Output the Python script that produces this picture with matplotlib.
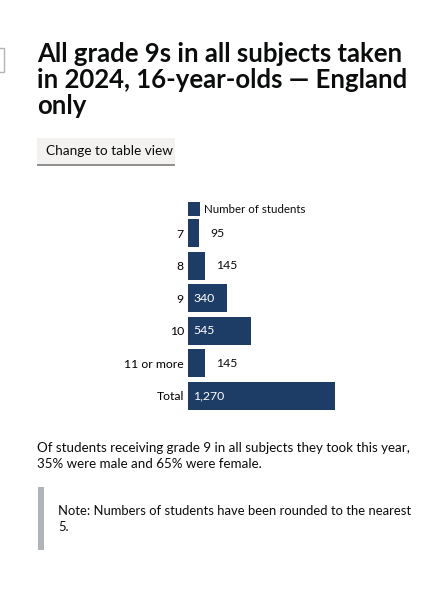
import matplotlib
matplotlib.use("Agg")
import matplotlib.pyplot as plt
from matplotlib.patches import Rectangle

categories = ["7", "8", "9", "10", "11 or more", "Total"]
values = [95, 145, 340, 545, 145, 1270]
value_labels = ["95", "145", "340", "545", "145", "1,270"]

W, H = 434, 600
fig = plt.figure(figsize=(W/100, H/100), dpi=100)
plt.rcParams['font.family'] = ['Lato', 'DejaVu Sans']
navy = "#1d3c66"

def fx(x): return x / W
def fy(y): return 1 - y / H

# title
fig.text(fx(37), fy(80), "All grade 9s in all subjects taken\nin 2024, 16-year-olds \u2014 England\nonly",
         fontsize=18.5, fontweight='bold', va='center', ha='left', linespacing=1.12, color="#0b0c0c")
# left sliver box
fig.patches.append(Rectangle((fx(-10), fy(72)), fx(14), 24/H, transform=fig.transFigure,
                             fill=False, edgecolor="#b1b4b6", lw=1))
# button
fig.patches.append(Rectangle((fx(37), fy(164)), fx(138), 26/H, transform=fig.transFigure,
                             facecolor="#f3f2f1", edgecolor="none"))
fig.patches.append(Rectangle((fx(37), fy(166)), fx(138), 2/H, transform=fig.transFigure,
                             facecolor="#929191", edgecolor="none"))
fig.text(fx(46), fy(151), "Change to table view", fontsize=9.8, va='center', color="#0b0c0c")

# chart
ax = fig.add_axes([fx(188), fy(412), 147/W, 195/H])
y = list(range(len(categories)))
ax.barh(y, values, height=0.86, color=navy)
ax.set_xlim(0, 1270)
ax.set_ylim(len(categories) - 0.5, -0.5)
ax.set_yticks(y)
ax.set_yticklabels(categories, fontsize=8.8)
ax.tick_params(length=0, pad=3)
ax.set_xticks([])
for s in ax.spines.values():
    s.set_visible(False)
for i, (v, lab) in enumerate(zip(values, value_labels)):
    if v >= 300:
        ax.text(45, i, lab, color="white", va='center', ha='left', fontsize=8.8)
    else:
        ax.text(v + 100, i, lab, color="#0b0c0c", va='center', ha='left', fontsize=8.8)

# legend
fig.patches.append(Rectangle((fx(188), fy(216)), fx(12), 14/H, transform=fig.transFigure,
                             facecolor=navy, edgecolor="none"))
fig.text(fx(204), fy(209), "Number of students", fontsize=8.3, va='center', color="#0b0c0c")

# paragraph
fig.text(fx(37), fy(456), "Of students receiving grade 9 in all subjects they took this year,\n35% were male and 65% were female.",
         fontsize=9.6, va='center', linespacing=1.4, color="#0b0c0c")
# note
fig.patches.append(Rectangle((fx(38), fy(550)), fx(6), 63/H, transform=fig.transFigure,
                             facecolor="#b1b4b6", edgecolor="none"))
fig.text(fx(58), fy(519), "Note: Numbers of students have been rounded to the nearest\n5.",
         fontsize=9.4, va='center', linespacing=1.4, color="#0b0c0c")

fig.savefig("out.png", dpi=100, facecolor="white")
